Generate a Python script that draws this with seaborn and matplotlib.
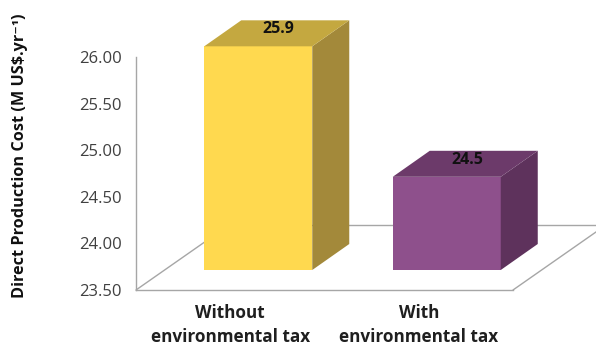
import matplotlib
matplotlib.use("Agg")
import matplotlib.pyplot as plt
import seaborn as sns
from matplotlib.patches import Polygon
from matplotlib.lines import Line2D
from matplotlib.transforms import IdentityTransform

# ---- data ----
categories = ["Without\nenvironmental tax", "With\nenvironmental tax"]
values = [25.9, 24.5]
value_labels = ["25.9", "24.5"]
y_ticks = [23.5, 24.0, 24.5, 25.0, 25.5, 26.0]
y_label = "Direct Production Cost (M US$.yr\u207b\u00b9)"

# ---- style ----
front_colors = ["#FFD94F", "#8E508C"]
top_colors = ["#C4A840", "#6C3A6A"]
side_colors = ["#A3893A", "#5E325C"]
grid_color = "#A6A6A6"

sns.set_theme(style="white")
plt.rcParams["font.family"] = ["Open Sans", "DejaVu Sans"]

W, H = 596, 345
fig = plt.figure(figsize=(W / 100, H / 100), dpi=100)

# geometry in pixels
plane_left, plane_bottom = 136, 290       # front plane (from top)
plane_w, plane_h = 377, 233
bar_shift = (28, 20)                       # bars sit behind the front plane
bar_depth = (37, 26)
floor_depth = (93, 65)

ax_front = fig.add_axes([plane_left / W, (H - plane_bottom) / H, plane_w / W, plane_h / H])
ax_bar = fig.add_axes([(plane_left + bar_shift[0]) / W, (H - plane_bottom + bar_shift[1]) / H,
                       plane_w / W, plane_h / H])

ymin, ymax = y_ticks[0], y_ticks[-1]

# ---- front axes: ticks & floor ----
ax_front.set_facecolor("none")
ax_front.set_xlim(-0.5, len(categories) - 0.5)
ax_front.set_ylim(ymin, ymax)
ax_front.set_xticks(range(len(categories)))
ax_front.set_xticklabels(categories, fontweight="bold", fontsize=12.3, color="#1f1f1f",
                         linespacing=1.45)
ax_front.set_yticks(y_ticks)
ax_front.set_yticklabels([f"{t:.2f}" for t in y_ticks], fontsize=12, color="#404040")
ax_front.tick_params(axis="both", length=0)
ax_front.tick_params(axis="y", pad=10)
ax_front.tick_params(axis="x", pad=10)
for s in ["top", "right"]:
    ax_front.spines[s].set_visible(False)
for s in ["left", "bottom"]:
    ax_front.spines[s].set_color(grid_color)
    ax_front.spines[s].set_linewidth(1.0)

p0 = ax_front.transAxes.transform((0, 0))
p1 = ax_front.transAxes.transform((1, 0))
dx, dy = floor_depth
b0 = (p0[0] + dx, p0[1] + dy)
b1 = (p1[0] + dx, p1[1] + dy)
for (a, b) in [(p0, b0), (p1, b1), (b0, b1)]:
    ln = Line2D([a[0], b[0]], [a[1], b[1]], transform=IdentityTransform(),
                color=grid_color, lw=1.0, clip_on=False)
    ax_front.add_line(ln)

# ---- bars ----
sns.barplot(x=categories, y=values, hue=categories, palette=front_colors,
            width=0.573, saturation=1, legend=False, ax=ax_bar, linewidth=0)
ax_bar.set_xlim(-0.5, len(categories) - 0.5)
ax_bar.set_ylim(ymin, ymax)
ax_bar.axis("off")

patches = sorted(ax_bar.patches, key=lambda p: p.get_x())
bx, by = bar_depth
for i, p in enumerate(patches):
    x0 = p.get_x()
    x1 = x0 + p.get_width()
    top = p.get_y() + p.get_height()
    fl_t = ax_bar.transData.transform((x0, top))
    fr_t = ax_bar.transData.transform((x1, top))
    fr_b = ax_bar.transData.transform((x1, ymin))
    side = Polygon([fr_b, fr_t, (fr_t[0] + bx, fr_t[1] + by), (fr_b[0] + bx, fr_b[1] + by)],
                   closed=True, transform=IdentityTransform(), facecolor=side_colors[i],
                   edgecolor="none", clip_on=False, zorder=3)
    topf = Polygon([fl_t, fr_t, (fr_t[0] + bx, fr_t[1] + by), (fl_t[0] + bx, fl_t[1] + by)],
                   closed=True, transform=IdentityTransform(), facecolor=top_colors[i],
                   edgecolor="none", clip_on=False, zorder=3)
    ax_bar.add_patch(side)
    ax_bar.add_patch(topf)
    ax_bar.annotate(value_labels[i], xy=((x0 + x1) / 2, top),
                    xytext=(bx / 2 + 2, by / 2 + 4), textcoords="offset pixels",
                    ha="center", va="center", fontweight="bold", fontsize=11.5,
                    color="#111111", annotation_clip=False, zorder=4)

fig.text(20 / W, (H - 156) / H, y_label, rotation=90, ha="center", va="center",
         fontweight="bold", fontsize=11.7, color="#111111")

fig.savefig("out.png", dpi=100)
